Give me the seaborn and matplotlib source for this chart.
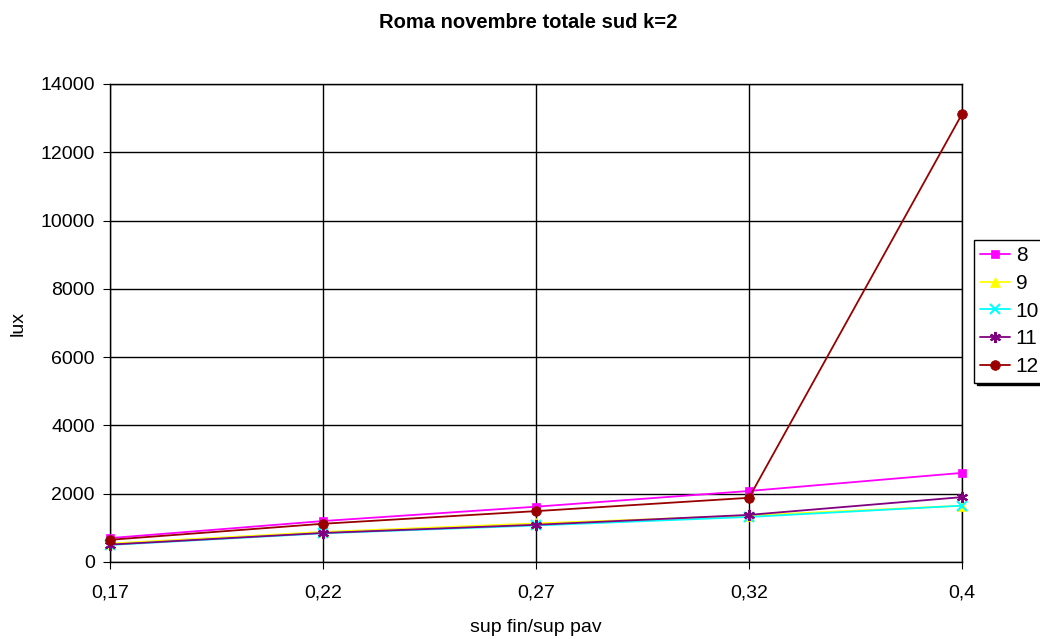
import matplotlib
matplotlib.use("Agg")
import matplotlib.pyplot as plt
import seaborn as sns
import pandas as pd

categories = ["0,17", "0,22", "0,27", "0,32", "0,4"]
series_names = ["8", "9", "10", "11", "12"]
s8 = [700, 1200, 1620, 2080, 2610]
s9 = [540, 880, 1130, 1360, 1650]
s10 = [500, 840, 1070, 1320, 1650]
s11 = [510, 850, 1090, 1380, 1900]
s12 = [650, 1120, 1490, 1880, 13120]
yticks = [0, 2000, 4000, 6000, 8000, 10000, 12000, 14000]

colors = ["#FF00FF", "#FFFF00", "#00FFFF", "#800080", "#990000"]
markers = ["s", "^", "x", (6, 2, 0), "o"]
msizes = [6, 7, 7, 8, 7]

sns.set_style("white")
plt.rcParams["font.family"] = ["Liberation Sans", "DejaVu Sans"]
plt.rcParams["text.color"] = "black"
plt.rcParams["axes.labelcolor"] = "black"
plt.rcParams["xtick.color"] = "black"
plt.rcParams["ytick.color"] = "black"

fig = plt.figure(figsize=(10.4, 6.39), dpi=100)
ax = fig.add_axes([110/1040, 1-562/639, (962-110)/1040, (562-84)/639])

pos = list(range(len(categories)))
for name, vals, c, m, ms in zip(series_names, [s8, s9, s10, s11, s12], colors, markers, msizes):
    df = pd.DataFrame({"x": pos, "y": vals})
    sns.lineplot(data=df, x="x", y="y", ax=ax, color=c, marker=m, markersize=ms,
                 markeredgecolor=c, markeredgewidth=1.5 if m in ("x", (6, 2, 0)) else 0.5,
                 linewidth=1.3, label=name, clip_on=False, zorder=3)

ax.set_xlim(0, len(categories) - 1)
ax.set_ylim(0, 14000)
ax.set_xticks(pos)
ax.set_xticklabels(categories)
ax.set_yticks(yticks)
ax.set_yticklabels([str(v) for v in yticks])
ax.grid(True, color="black", linewidth=1)
for s in ["top", "right", "left", "bottom"]:
    ax.spines[s].set_visible(True)
    ax.spines[s].set_color("black")
    ax.spines[s].set_linewidth(1)
ax.tick_params(axis="both", labelsize=14, length=5, color="black", direction="out",
               bottom=True, left=True)
ax.tick_params(axis="x", pad=11)
ax.tick_params(axis="y", pad=6)
ax.set_xlabel("sup fin/sup pav", fontsize=14, labelpad=13)
ax.set_ylabel("lux", fontsize=14, labelpad=10)

fig.text(528/1040, 1-22/639, "Roma novembre totale sud k=2", ha="center", va="center",
         fontsize=14.5, fontweight="bold")

leg = ax.legend(loc="upper left", bbox_to_anchor=(974/1040, 1-240/639),
                bbox_transform=fig.transFigure, frameon=True, fancybox=False,
                shadow={"color": "black", "alpha": 1}, edgecolor="black", fontsize=15,
                handlelength=1.45, borderpad=0.3, labelspacing=0.42, handletextpad=0.25,
                borderaxespad=0)
leg.get_frame().set_linewidth(1)

fig.savefig("out.png", dpi=100)
